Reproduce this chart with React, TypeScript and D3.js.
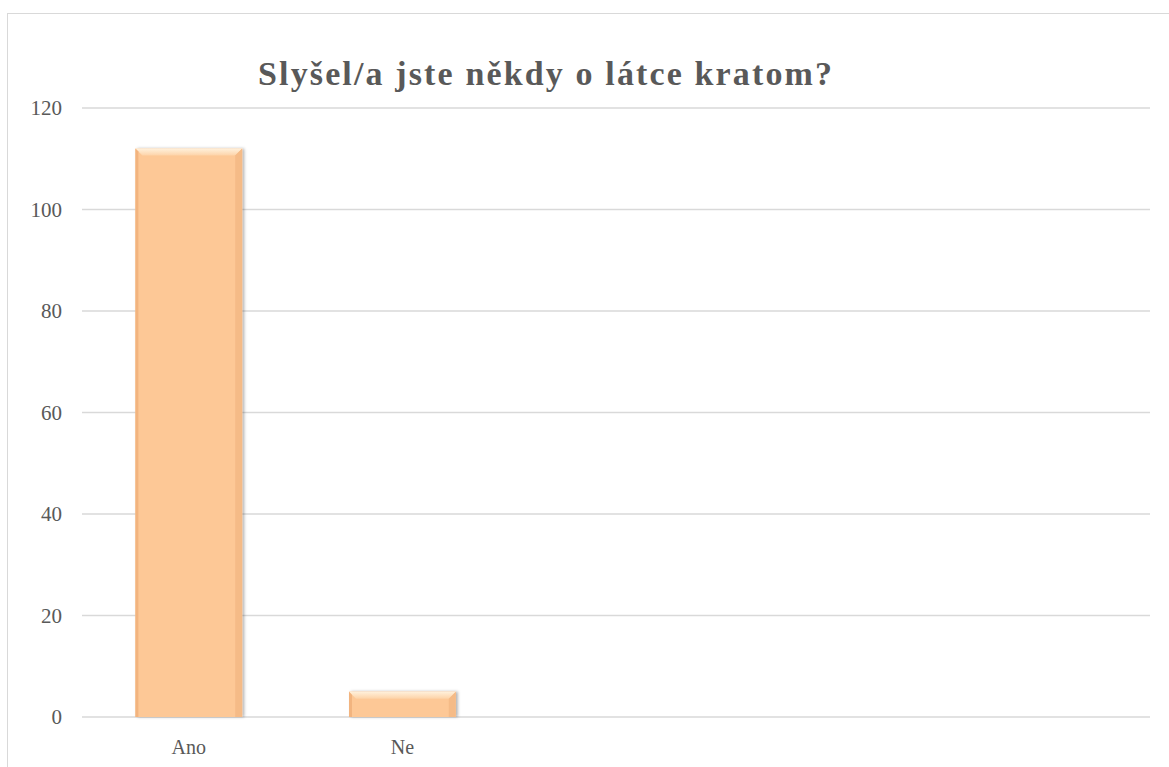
import * as d3 from 'd3'
import React, { useEffect, useRef } from 'react'

const categories = ['Ano', 'Ne', '', ' ', '  ']
const values = [112, 5, 0, 0, 0]
const yTicks = [0, 20, 40, 60, 80, 100, 120]
const title = 'Slyšel/a jste někdy o látce kratom?'

const FONT = "'Liberation Serif', 'Times New Roman', 'DejaVu Serif', serif"

const BarChart = () => {
  const chartRef = useRef(null)

  useEffect(() => {
    const width = 1169
    const height = 767
    const left = 82
    const right = 1150
    const top = 108
    const bottom = 717

    const svg = d3.select(chartRef.current)
    svg.selectAll('*').remove()
    svg.attr('width', width).attr('height', height)

    svg.append('rect')
      .attr('x', 7.5).attr('y', 13.5)
      .attr('width', width).attr('height', height)
      .attr('fill', '#fff').attr('stroke', '#d9d9d9')

    const x = d3.scaleBand().domain(categories).range([left, right])
      .paddingInner(0.5).paddingOuter(0.25)
    const y = d3.scaleLinear().domain([0, 120]).range([bottom, top])

    const defs = svg.append('defs')
    const shadow = defs.append('filter').attr('id', 'shadow')
      .attr('x', '-20%').attr('y', '-20%').attr('width', '140%').attr('height', '140%')
    shadow.append('feDropShadow').attr('dx', 2).attr('dy', 0).attr('stdDeviation', 1.5)
      .attr('flood-color', '#000').attr('flood-opacity', 0.3)
    const topGrad = defs.append('linearGradient').attr('id', 'topBevel')
      .attr('x1', 0).attr('y1', 0).attr('x2', 0).attr('y2', 1)
    topGrad.append('stop').attr('offset', '0%').attr('stop-color', '#fff1dc')
    topGrad.append('stop').attr('offset', '100%').attr('stop-color', '#fdd3a8')

    // gridlines
    svg.append('g').selectAll('line').data(yTicks).enter().append('line')
      .attr('x1', left).attr('x2', right)
      .attr('y1', d => y(d)).attr('y2', d => y(d))
      .attr('stroke', '#d9d9d9').attr('stroke-width', 1.3)

    svg.append('g').selectAll('text').data(yTicks).enter().append('text')
      .attr('x', 62).attr('y', d => y(d) + 7)
      .attr('text-anchor', 'end')
      .style('font-family', FONT)
      .attr('font-size', 21).attr('fill', '#595959')
      .text(d => d)

    const data = categories.map((c, i) => ({ c, v: values[i] })).filter(d => d.v > 0)
    const bw = x.bandwidth()
    const bev = 7

    const bars = svg.append('g').selectAll('g').data(data).enter().append('g')
    bars.append('rect')
      .attr('x', d => x(d.c) as number).attr('y', d => y(d.v))
      .attr('width', bw).attr('height', d => y(0) - y(d.v))
      .attr('fill', '#fdc896').attr('filter', 'url(#shadow)')
    // top bevel
    bars.append('path')
      .attr('d', d => {
        const x0 = x(d.c) as number, y0 = y(d.v)
        return `M${x0},${y0}L${x0 + bw},${y0}L${x0 + bw - bev},${y0 + bev}L${x0 + bev},${y0 + bev}Z`
      })
      .attr('fill', 'url(#topBevel)')
    // left bevel
    bars.append('path')
      .attr('d', d => {
        const x0 = x(d.c) as number, y0 = y(d.v), y1 = y(0)
        return `M${x0},${y0}L${x0 + 3},${y0 + 3}L${x0 + 3},${y1}L${x0},${y1}Z`
      })
      .attr('fill', '#f2b47f')
    // right bevel
    bars.append('path')
      .attr('d', d => {
        const x0 = (x(d.c) as number) + bw, y0 = y(d.v), y1 = y(0)
        return `M${x0},${y0}L${x0 - bev},${y0 + bev}L${x0 - bev},${y1}L${x0},${y1}Z`
      })
      .attr('fill', '#f5bb87')

    svg.append('g').selectAll('text').data(categories).enter().append('text')
      .attr('x', d => (x(d) as number) + bw / 2).attr('y', 754)
      .attr('text-anchor', 'middle')
      .style('font-family', FONT)
      .attr('font-size', 20).attr('fill', '#595959')
      .text(d => d.trim())

    svg.append('text')
      .attr('x', 545).attr('y', 85)
      .attr('text-anchor', 'middle')
      .style('font-family', FONT)
      .attr('font-size', 34).attr('font-weight', 'bold').attr('fill', '#595959')
      .attr('textLength', 574).attr('lengthAdjust', 'spacing')
      .text(title)
  }, [])

  return <svg ref={chartRef} style={{ position: 'absolute', left: 0, top: 0 }}></svg>
}

export default function App() {
  return <BarChart />
}
